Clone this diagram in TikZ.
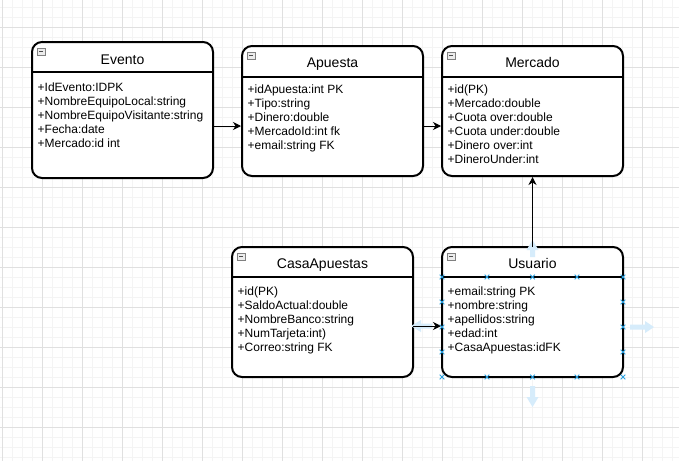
\documentclass[tikz,border=0pt]{standalone}
\usepackage{fontspec}
\setmainfont{Liberation Sans}
\usetikzlibrary{arrows.meta,calc}
\definecolor{gridminor}{HTML}{F4F4F4}
\definecolor{gridmajor}{HTML}{E0E0E0}
\definecolor{hoverblue}{HTML}{D6ECFB}
\definecolor{handleblue}{HTML}{2AA0E0}
\definecolor{iconborder}{HTML}{808080}
\definecolor{iconfill}{HTML}{ECECEC}
\newcommand\umlicon[1]{%
  \draw[iconborder, fill=iconfill, line width=0.7pt] ($(#1.north west)+(5.5,6.3)$) rectangle ++(7.5,7);
  \draw[black!70, line width=1pt] ($(#1.north west)+(7.3,9.8)$) -- ++(4,0);}
\begin{document}
\begin{tikzpicture}[x=1pt,y=-1pt,
  umlbox/.style={draw=black, line width=2pt, rounded corners=10pt, fill=white, inner sep=0pt, outer sep=0pt, minimum width=181pt},
  boxline/.style={draw=black, line width=2pt},
  titletext/.style={font=\fontsize{14}{16}\selectfont, inner sep=0pt, anchor=base},
  attr/.style={font=\fontsize{12}{14}\selectfont, inner sep=0pt, anchor=base west},
  conn/.style={draw=black, line width=1pt, shorten >=1pt, -{Stealth[length=8pt,width=8pt,inset=2.5pt]}},
  handle/.style={draw=handleblue, line width=1pt},
  hover/.style={fill=hoverblue}
]
\useasboundingbox (0,0) rectangle (679,461);
\fill[white] (0,0) rectangle (679,461);
% grid
\foreach \gx in {2,12,...,672} \draw[gridminor, line width=1pt] (\gx,0) -- (\gx,461);
\foreach \gy in {7,17,...,457} \draw[gridminor, line width=1pt] (0,\gy) -- (679,\gy);
\foreach \gx in {2,42,...,642} \draw[gridmajor, line width=1pt] (\gx,0) -- (\gx,461);
\foreach \gy in {27,67,...,427} \draw[gridmajor, line width=1pt] (0,\gy) -- (679,\gy);

% boxes
\node[umlbox, minimum height=136pt] (evento) at (122.5,110) {};
\node[umlbox, minimum height=130pt] (apuesta) at (332.5,111) {};
\node[umlbox, minimum height=130pt] (mercado) at (532.5,111) {};
\node[umlbox, minimum height=130pt] (casa) at (322.5,312) {};
\node[umlbox, minimum height=130pt] (usuario) at (532.5,312) {};

% header lines
\draw[boxline] ($(evento.north west)+(0,30)$) -- ($(evento.north east)+(0,30)$);
\draw[boxline] ($(apuesta.north west)+(0,31)$) -- ($(apuesta.north east)+(0,31)$);
\draw[boxline] ($(mercado.north west)+(0,31)$) -- ($(mercado.north east)+(0,31)$);
\draw[boxline] ($(casa.north west)+(0,29.5)$) -- ($(casa.north east)+(0,29.5)$);
\draw[boxline] ($(usuario.north west)+(0,30)$) -- ($(usuario.north east)+(0,30)$);

% icons
\umlicon{evento}
\umlicon{apuesta}
\umlicon{mercado}
\umlicon{casa}
\umlicon{usuario}

% titles
\node[titletext] (eventoT) at (122.5,64.3) {Evento};
\node[titletext] (apuestaT) at (332.5,67.3) {Apuesta};
\node[titletext] (mercadoT) at (532.5,67.3) {Mercado};
\node[titletext] (casaT) at (322.5,268.3) {CasaApuestas};
\node[titletext] (usuarioT) at (532.5,268.3) {Usuario};

% attributes
\foreach \t [count=\i] in {{+IdEvento:IDPK},{+NombreEquipoLocal:string},{+NombreEquipoVisitante:string},{+Fecha:date},{+Mercado:id int}}
  \node[attr] (ev\i) at (37.5,{91+14*(\i-1)}) {\t};
\foreach \t [count=\i] in {{+idApuesta:int PK},{+Tipo:string},{+Dinero:double},{+MercadoId:int fk},{+email:string FK}}
  \node[attr] (ap\i) at (247.5,{93.7+14*(\i-1)}) {\t};
\foreach \t [count=\i] in {{+id(PK)},{+Mercado:double},{+Cuota over:double},{+Cuota under:double},{+Dinero over:int},{+DineroUnder:int}}
  \node[attr] (me\i) at (447.5,{93.7+14*(\i-1)}) {\t};
\foreach \t [count=\i] in {{+id(PK)},{+SaldoActual:double},{+NombreBanco:string},{+NumTarjeta:int)},{+Correo:string FK}}
  \node[attr] (ca\i) at (237.5,{295+14*(\i-1)}) {\t};
\foreach \t [count=\i] in {{+email:string PK},{+nombre:string},{+apellidos:string},{+edad:int},{+CasaApuestas:idFK}}
  \node[attr] (us\i) at (447.5,{295+14*(\i-1)}) {\t};

% hover arrows around Usuario
\fill[hover] (630,324.5) -- (645,324.5) -- (645,321) -- (654,327) -- (645,333) -- (645,329.5) -- (630,329.5) -- cycle;
\fill[hover] (530,386) -- (535,386) -- (535,397) -- (538.5,397) -- (532.5,407) -- (526.5,397) -- (530,397) -- cycle;
\fill[hover] (532.5,240) -- (538.5,250) -- (535,250) -- (535,257) -- (530,257) -- (530,250) -- (526.5,250) -- cycle;
\fill[hover] (411,326) -- (421,320) -- (421,323.5) -- (432,323.5) -- (432,328.5) -- (421,328.5) -- (421,332) -- cycle;

% connectors
\coordinate (rowA) at (0,126);
\coordinate (rowB) at (0,326);
\draw[conn] (evento.east |- rowA) -- (apuesta.west |- rowA);
\draw[conn] (apuesta.east |- rowA) -- (mercado.west |- rowA);
\draw[conn] (usuario.north) -- (mercado.south);
\draw[conn] (casa.east |- rowB) -- (usuario.west |- rowB);

% connection handles on Usuario
\foreach \hx in {442,487,532.5,577,623}
  \foreach \hy in {277,377}
    \draw[handle] (\hx,\hy) +(-2.3,-2.3) -- +(2.3,2.3) +(-2.3,2.3) -- +(2.3,-2.3);
\foreach \hx in {442,623}
  \foreach \hy in {302,327,352}
    \draw[handle] (\hx,\hy) +(-2.3,-2.3) -- +(2.3,2.3) +(-2.3,2.3) -- +(2.3,-2.3);
\end{tikzpicture}
\end{document}
